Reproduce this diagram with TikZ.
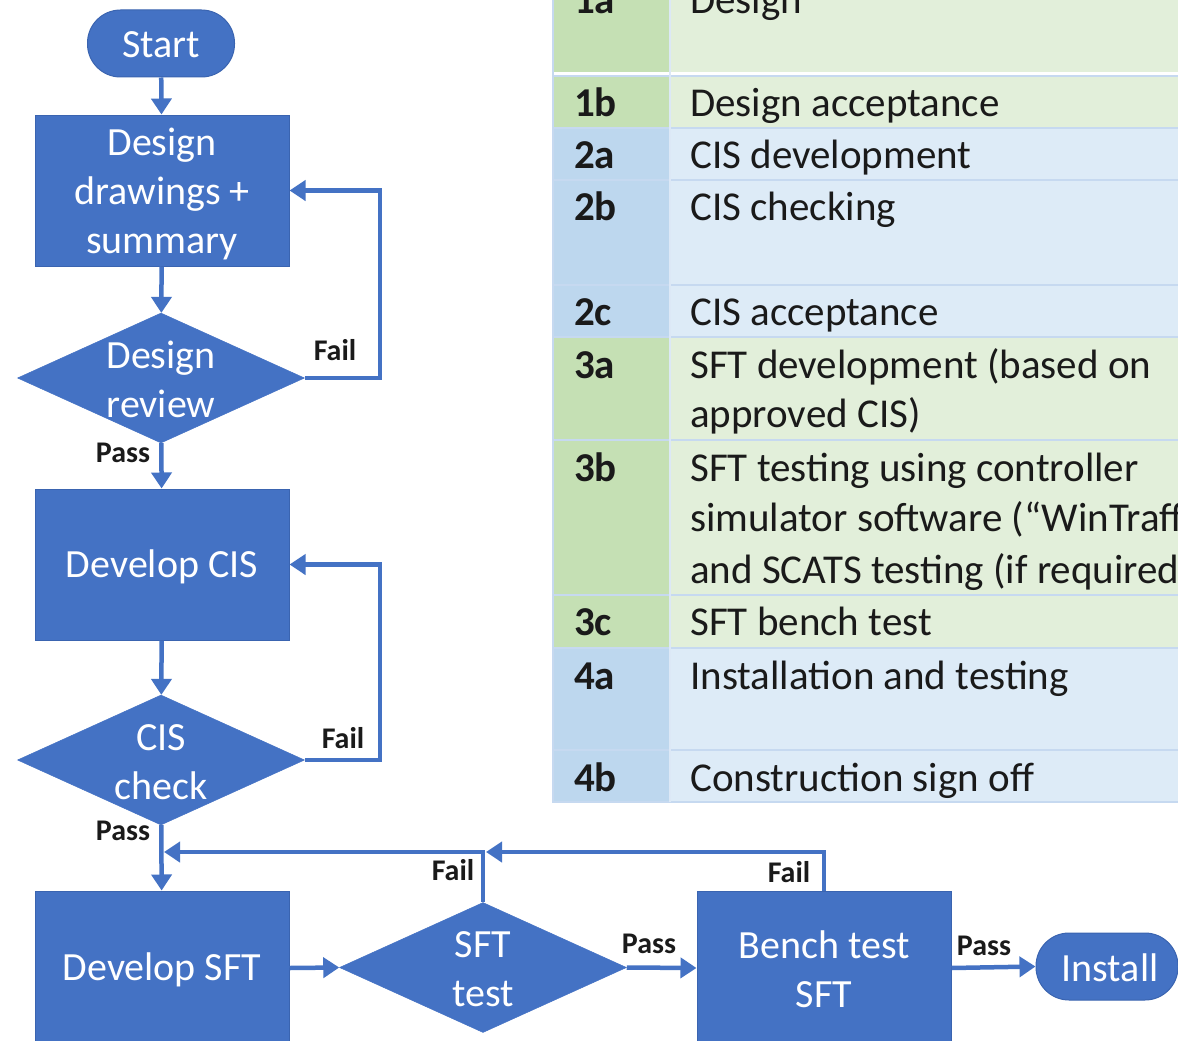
\documentclass[tikz,border=0pt]{standalone}
\usepackage{fontspec}
\setmainfont{Carlito}
\usetikzlibrary{shapes.geometric,arrows.meta}
\definecolor{flow}{HTML}{4472C4}
\definecolor{flowdark}{HTML}{3A64B0}
\definecolor{gA}{HTML}{C5E0B4}
\definecolor{gB}{HTML}{E2EFDA}
\definecolor{bA}{HTML}{BDD7EE}
\definecolor{bB}{HTML}{DDEBF7}
\definecolor{sep}{HTML}{C6D9F0}
\definecolor{csep}{HTML}{DCE8F6}
\definecolor{ink}{HTML}{1A1A1A}
\begin{document}
\begin{tikzpicture}[x=1pt,y=-1pt,
  box/.style={draw=flowdark, line width=1pt, fill=flow, minimum width=254pt, minimum height=151pt, inner sep=0pt},
  term/.style={draw=flowdark, line width=1pt, fill=flow, rounded corners=33pt, minimum width=147pt, minimum height=67pt,
    inner sep=0pt},
  dia/.style={diamond, fill=flow, draw=flow, line width=0.5pt, minimum width=287pt, minimum height=130pt, inner sep=0pt},
  wtxt/.style={text=white, font=\fontsize{40}{49}\selectfont, align=center, inner sep=0pt},
  lab/.style={font=\bfseries\fontsize{30}{36}\selectfont, text=ink, inner sep=0pt},
  arr/.style={draw=flow, line width=4.5pt, -{Triangle[width=20pt,length=16pt]}},
  tnum/.style={font=\bfseries\fontsize{41}{50}\selectfont, text=ink, inner sep=0pt, anchor=base west},
  ttxt/.style={font=\fontsize{41}{50}\selectfont, text=ink, inner sep=0pt, anchor=base west}
]
\clip (0,0) rectangle (1178,1041);
\fill[white] (0,0) rectangle (1178,1041);

% ---------- table ----------
\fill[gA] (552,-60) rectangle (670,74);
\fill[gB] (670,-60) rectangle (1178,74);
\fill[gA] (552,76) rectangle (670,128);
\fill[gB] (670,76) rectangle (1178,128);
\fill[bA] (552,128) rectangle (670,337);
\fill[bB] (670,128) rectangle (1178,337);
\fill[gA] (552,337) rectangle (670,648);
\fill[gB] (670,337) rectangle (1178,648);
\fill[bA] (552,648) rectangle (670,802);
\fill[bB] (670,648) rectangle (1178,802);
\draw[white, line width=2pt] (552,73.5) -- (1178,73.5);
\foreach \yy in {76,128,180,285,337,440,595,648,750,802}
  \draw[sep, line width=2pt] (552,\yy) -- (1178,\yy);
\draw[csep, line width=2pt] (670,-60) -- (670,802);
\draw[sep, line width=2pt] (553,-60) -- (553,802);

% table texts
\node[tnum] (n1a) at (574,14) {1a};
\node[ttxt] (x1a) at (690,14) {Design};
\node[tnum] (n1b) at (574,116.5) {1b};
\node[ttxt] (x1b) at (690,116.5) {Design acceptance};
\node[tnum] (n2a) at (574,168.5) {2a};
\node[ttxt] (x2a) at (690,168.5) {CIS development};
\node[tnum] (n2b) at (574,220.5) {2b};
\node[ttxt] (x2b) at (690,220.5) {CIS checking};
\node[tnum] (n2c) at (574,325.5) {2c};
\node[ttxt] (x2c) at (690,325.5) {CIS acceptance};
\node[tnum] (n3a) at (574,378) {3a};
\node[ttxt] (x3a1) at (690,378) {SFT development (based on};
\node[ttxt] (x3a2) at (690,427) {approved CIS)};
\node[tnum] (n3b) at (574,481) {3b};
\node[ttxt] (x3b1) at (690,481) {SFT testing using controller};
\node[ttxt] (x3b2) at (690,531) {simulator software (“WinTraff”)};
\node[ttxt] (x3b3) at (690,583) {and SCATS testing (if required)};
\node[tnum] (n3c) at (574,635.5) {3c};
\node[ttxt] (x3c) at (690,635.5) {SFT bench test};
\node[tnum] (n4a) at (574,689) {4a};
\node[ttxt] (x4a) at (690,689) {Installation and testing};
\node[tnum] (n4b) at (574,791) {4b};
\node[ttxt] (x4b) at (690,791) {Construction sign off};

% ---------- flowchart nodes ----------
\node[term] (start) at (161,43.5) {};
\node[wtxt] (startt) at (161,45) {Start};
\node[box] (design) at (162,190.5) {};
\node[wtxt] (designt) at (162,193.5) {Design\\drawings +\\summary};
\node[dia] (drev) at (161,378) {};
\node[wtxt] (drevt) at (161,379) {Design\\review};
\node[box] (cis) at (162,564.5) {};
\node[wtxt] (cist) at (162,567) {Develop CIS};
\node[dia] (cchk) at (161,760) {};
\node[wtxt] (cchkt) at (161,762) {CIS\\check};
\node[box, minimum height=154pt] (sft) at (162,968) {};
\node[wtxt] (sftt0) at (162,970) {Develop SFT};
\node[dia] (sftt) at (483,967.5) {};
\node[wtxt] (sfttt) at (483,969) {SFT\\test};
\node[box, minimum height=154pt] (bench) at (824,968) {};
\node[wtxt] (bencht) at (824,969.5) {Bench test\\SFT};
\node[term, minimum width=142pt] (install) at (1107,966.5) {};
\node[wtxt] (installt) at (1110,968) {Install};

\coordinate (j1) at (164,852);
\coordinate (j2) at (486,852);

% ---------- connectors ----------
\draw[arr] (start) -- (design);
\draw[arr] (design) -- (drev);
\draw[arr] (drev.east) -- (380,378) |- (design.east);
\draw[arr] (drev) -- (cis);
\draw[arr] (cis) -- (cchk);
\draw[arr] (cchk.east) -- (380,760) |- (cis.east);
\draw[arr] (cchk) -- (sft);
\draw[arr] (sftt.north) |- (j1);
\draw[arr] (bench.north) |- (j2);
\draw[arr] (sft.east) -- (sftt.west);
\draw[arr] (sftt.east) -- (bench.west);
\draw[arr] (bench.east) -- (install.west);

% ---------- labels ----------
\node[lab] (l1) at (335,350) {Fail};
\node[lab] (l2) at (123,453) {Pass};
\node[lab] (l3) at (343,738) {Fail};
\node[lab] (l4) at (123,831) {Pass};
\node[lab] (l5) at (453,870) {Fail};
\node[lab] (l6) at (789,872) {Fail};
\node[lab] (l7) at (649,944) {Pass};
\node[lab] (l8) at (984,946) {Pass};
\end{tikzpicture}
\end{document}
